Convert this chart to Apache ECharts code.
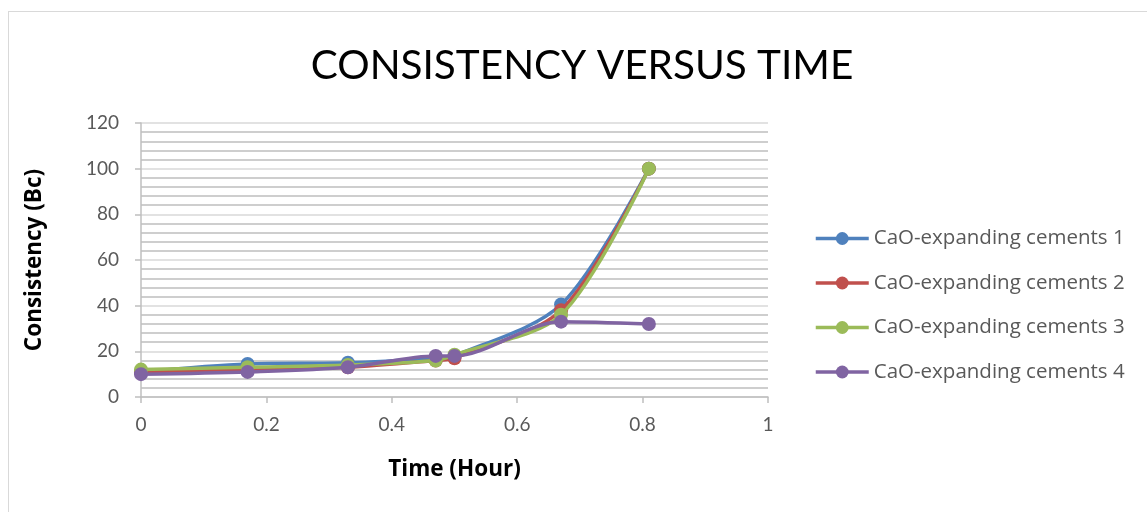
<!DOCTYPE html>
<html>
<head>
<meta charset="utf-8">
<script src="https://cdn.jsdelivr.net/npm/echarts@6/dist/echarts.min.js"></script>
<style>
html,body{margin:0;padding:0;background:#fff;}
#frame{position:absolute;left:8px;top:11px;width:1150px;height:520px;border:1px solid #d9d9d9;box-sizing:border-box;}
#chart{position:absolute;left:0;top:0;width:1147px;height:512px;}
</style>
</head>
<body>
<div id="frame"></div>
<div id="chart"></div>
<script>
const seriesNames = ['CaO-expanding cements 1','CaO-expanding cements 2','CaO-expanding cements 3','CaO-expanding cements 4'];
const timeHours = [0, 0.17, 0.33, 0.47, 0.5, 0.67, 0.81];
const cement1 = [11, 14.5, 15, 17, 18, 40.5, 100];
const cement2 = [11, 12, 13, 16, 17, 38, 100];
const cement3 = [12, 13, 14, 16, 18.5, 36, 100];
const cement4 = [10, 11, 13, 18, 18, 33, 32];
const seriesValues = [cement1, cement2, cement3, cement4];
const colors = ['#4F81BD','#C0504D','#9BBB59','#8064A2'];
const FONT = 'Lato';
const FONT2 = 'Open Sans';

const chart = echarts.init(document.getElementById('chart'));
chart.setOption({
  animation:false,
  title:{
    text:'CONSISTENCY VERSUS TIME',
    left:577, top:40, textAlign:'center',
    textStyle:{fontFamily:FONT,fontSize:40.5,fontWeight:'normal',color:'#000'}
  },
  legend:{
    orient:'vertical', left:814, top:228, padding:0,
    itemWidth:53, itemHeight:16, itemGap:23.5,
    lineStyle:{width:3.5},
    data:seriesNames,
    textStyle:{fontFamily:FONT2,fontSize:20.5,color:'#595959',lineHeight:20}
  },
  grid:{left:141,top:123,width:627,height:274,containLabel:false},
  xAxis:{
    type:'value', min:0, max:1, interval:0.2,
    name:'Time (Hour)', nameLocation:'middle', nameGap:61,
    nameTextStyle:{fontFamily:FONT2,fontSize:22.5,fontWeight:'bold',color:'#000'},
    axisLine:{show:true,onZero:false,lineStyle:{color:'#bfbfbf',width:1.5}},
    axisTick:{show:true,length:6,lineStyle:{color:'#bfbfbf',width:1.5}},
    axisLabel:{fontFamily:FONT,fontSize:19,color:'#595959',margin:18},
    splitLine:{show:false}
  },
  yAxis:{
    type:'value', min:0, max:120, interval:20,
    name:'Consistency (Bc)', nameLocation:'middle', nameGap:95,
    nameTextStyle:{fontFamily:FONT2,fontSize:22.5,fontWeight:'bold',color:'#000'},
    axisLine:{show:true,lineStyle:{color:'#bfbfbf',width:1.5}},
    axisTick:{show:true,length:6,lineStyle:{color:'#bfbfbf',width:1.5}},
    minorTick:{show:false,splitNumber:5},
    axisLabel:{fontFamily:FONT,fontSize:19,color:'#595959',margin:22},
    splitLine:{show:true,lineStyle:{color:'#d9d9d9',width:1.5}},
    minorSplitLine:{show:true,lineStyle:{color:'#bfbfbf',width:1.5}}
  },
  series: seriesNames.map((n,i)=>({
    name:n, type:'line', smooth:0.3,
    data: timeHours.map((t,j)=>[t, seriesValues[i][j]]),
    symbol:'circle', symbolSize:14,
    itemStyle:{color:colors[i]},
    lineStyle:{color:colors[i],width:3.5},
    z:2+i
  }))
});
</script>
</body>
</html>
